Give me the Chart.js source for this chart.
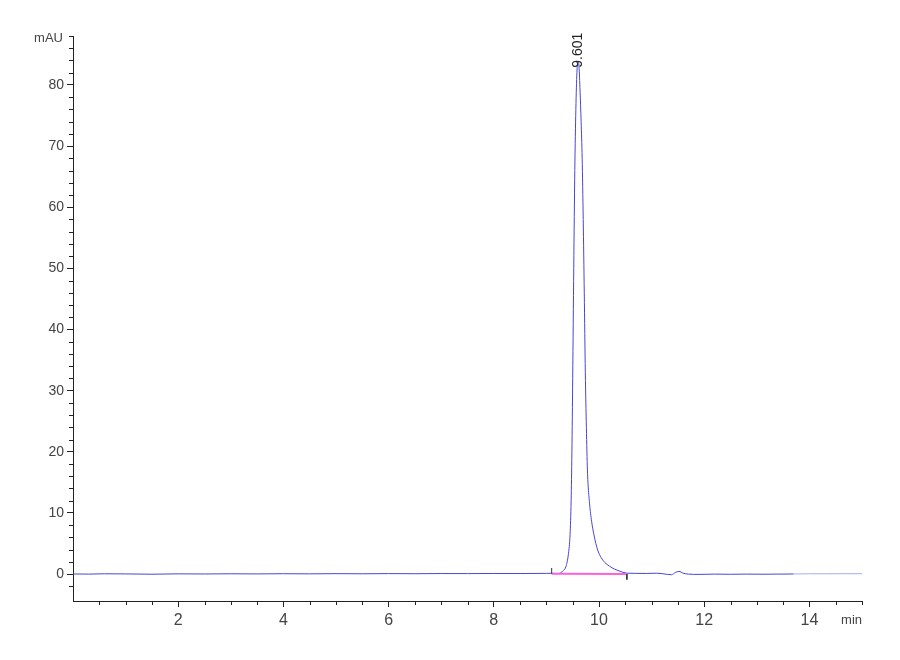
<!DOCTYPE html>
<html>
<head>
<meta charset="utf-8">
<script src="https://cdn.jsdelivr.net/npm/chart.js@4.4.1/dist/chart.umd.min.js"></script>
<style>
  html, body { margin: 0; padding: 0; background: #fff; }
  #wrap { width: 900px; height: 660px; }
</style>
</head>
<body>
<div id="wrap"><canvas id="chart" width="900" height="660"></canvas></div>
<script>
// retention time (min) and detector signal (mAU)
const times = [
  0, 0.3, 0.6, 1.0, 1.5, 2.0, 2.5, 3.0, 3.5, 4.0, 4.5, 5.0, 5.5, 6.0, 6.5, 7.0, 7.5, 8.0, 8.5,
  9.0, 9.1, 9.2, 9.25, 9.31, 9.37, 9.42, 9.45, 9.47, 9.485, 9.5, 9.52, 9.54, 9.56, 9.58,
  9.6, 9.62, 9.64, 9.66, 9.68, 9.7, 9.72, 9.74, 9.76, 9.78, 9.82, 9.86, 9.9, 9.94, 9.98,
  10.04, 10.11, 10.2, 10.3, 10.42, 10.53, 10.7, 10.9, 11.1, 11.3, 11.38, 11.45,
  11.52, 11.6, 11.7, 11.9, 12.2, 12.5, 12.8, 13.1, 13.4, 13.7, 14.0, 14.3, 14.6, 15.0
];
const signal = [
  0.02, 0.0, 0.05, 0.03, -0.02, 0.04, 0.02, 0.05, 0.03, 0.06, 0.04, 0.07, 0.05, 0.08, 0.06, 0.09, 0.08, 0.1, 0.09,
  0.12, 0.13, 0.1, 0.12, 0.5, 1.2, 3.4, 6.5, 12, 20, 32, 50, 66, 76, 82,
  83.8, 83, 79, 74, 68, 58, 46, 33, 24, 17, 11.6, 8.6, 6.6, 5.0, 3.8,
  2.7, 1.9, 1.3, 0.8, 0.4, 0.15, 0.12, 0.1, 0.15, -0.05, -0.1, 0.25,
  0.45, 0.15, 0.0, -0.05, 0.0, -0.03, 0.0, -0.02, 0.0, 0.02, 0.05, 0.05, 0.06, 0.06
];

// integration of the single peak
const peakTime = 9.601;
const peakHeight = 83.8;
const peakLabel = '9.601';
const baselineX = [9.1, 10.53];
const baselineY = [0.05, 0.0];
const startMarkY = [0.05, 1.0];
const endMarkY = [0.0, -0.9];

// axes
const xMin = 0, xMax = 15, xStep = 0.5;
const xLabelValues = [2, 4, 6, 8, 10, 12, 14];
const yMin = -4.4, yMax = 88, yStep = 2;
const yLabelValues = [0, 10, 20, 30, 40, 50, 60, 70, 80];
const yUnit = 'mAU';
const xUnit = 'min';

const near = (v, list) => list.some(l => Math.abs(l - v) < 1e-6);
const onStep = (v, step) => Math.abs(v / step - Math.round(v / step)) < 1e-6;

const trace = times.map((t, i) => ({ x: t, y: signal[i] }));
const baseLine = baselineX.map((x, i) => ({ x, y: baselineY[i] }));
const startMark = startMarkY.map(y => ({ x: baselineX[0], y }));
const endMark = endMarkY.map(y => ({ x: baselineX[1], y }));

const AXIS = '#222';
const TEXT = '#444';

const extras = {
  id: 'extras',
  afterDraw(chart){
    const { ctx, chartArea: a, scales: { x, y } } = chart;
    ctx.save();
    ctx.strokeStyle = AXIS;
    ctx.lineWidth = 1;
    // minor ticks
    ctx.beginPath();
    y.ticks.forEach(t => {
      if (!onStep(t.value, yStep) || near(t.value, yLabelValues)) return;
      const py = Math.round(y.getPixelForValue(t.value)) + 0.5;
      ctx.moveTo(a.left - 4, py); ctx.lineTo(a.left, py);
    });
    x.ticks.forEach(t => {
      if (t.value === xMin || near(t.value, xLabelValues)) return;
      const px = Math.round(x.getPixelForValue(t.value)) + 0.5;
      ctx.moveTo(px, a.bottom); ctx.lineTo(px, a.bottom + 4);
    });
    ctx.stroke();

    // unit labels
    ctx.fillStyle = TEXT;
    ctx.font = '13px "Liberation Sans Narrow", "Liberation Sans", Arial, sans-serif';
    ctx.textAlign = 'right';
    ctx.textBaseline = 'middle';
    ctx.fillText(yUnit, a.left - 10, y.getPixelForValue(yMax) + 2);
    ctx.fillText(xUnit, a.right, a.bottom + 19);

    // peak label, rotated
    ctx.fillStyle = '#222';
    ctx.font = '14px "Liberation Sans", Arial, sans-serif';
    ctx.translate(x.getPixelForValue(peakTime), y.getPixelForValue(peakHeight) + 6);
    ctx.rotate(-Math.PI / 2);
    ctx.textAlign = 'left';
    ctx.textBaseline = 'middle';
    ctx.fillText(peakLabel, 0, 0);
    ctx.restore();
  }
};

new Chart(document.getElementById('chart'), {
  type: 'line',
  data: {
    datasets: [
      {
        data: trace,
        borderColor: 'rgb(70,70,212)',
        borderWidth: 1,
        pointRadius: 0,
        cubicInterpolationMode: 'monotone',
        segment: {
          borderColor: c => c.p0.parsed.x >= 13.6 ? 'rgb(165,172,238)' : undefined
        },
        order: 2
      },
      { data: baseLine, borderColor: 'rgb(255,95,225)', borderWidth: 2, pointRadius: 0, order: 1 },
      { data: startMark, borderColor: '#333', borderWidth: 1, pointRadius: 0, order: 0 },
      { data: endMark, borderColor: '#333', borderWidth: 1, pointRadius: 0, order: 0 }
    ]
  },
  options: {
    responsive: false,
    animation: false,
    devicePixelRatio: 1,
    layout: { padding: { top: 36, right: 38, left: 0, bottom: 0 } },
    plugins: { legend: { display: false }, tooltip: { enabled: false } },
    scales: {
      x: {
        type: 'linear',
        min: xMin, max: xMax,
        afterFit: s => { s.height = 59; },
        border: { display: true, color: AXIS, width: 1 },
        grid: {
          drawOnChartArea: false,
          tickLength: 6,
          tickColor: c => near(c.tick.value, xLabelValues) ? AXIS : 'transparent'
        },
        ticks: {
          stepSize: xStep,
          autoSkip: false,
          maxRotation: 0,
          padding: 4,
          color: TEXT,
          font: { family: '"Liberation Sans Narrow", "Liberation Sans", Arial, sans-serif', size: 16 },
          callback: v => near(v, xLabelValues) ? String(v) : ''
        }
      },
      y: {
        type: 'linear',
        min: yMin, max: yMax,
        afterFit: s => { s.width = 73; },
        border: { display: true, color: AXIS, width: 1 },
        grid: {
          drawOnChartArea: false,
          tickLength: 6,
          tickColor: c => near(c.tick.value, yLabelValues) ? AXIS : 'transparent'
        },
        ticks: {
          stepSize: yStep,
          autoSkip: false,
          padding: 3,
          color: TEXT,
          font: { family: '"Liberation Sans", Arial, sans-serif', size: 14 },
          callback: v => near(v, yLabelValues) ? String(v) : ''
        }
      }
    }
  },
  plugins: [extras]
});
</script>
</body>
</html>
